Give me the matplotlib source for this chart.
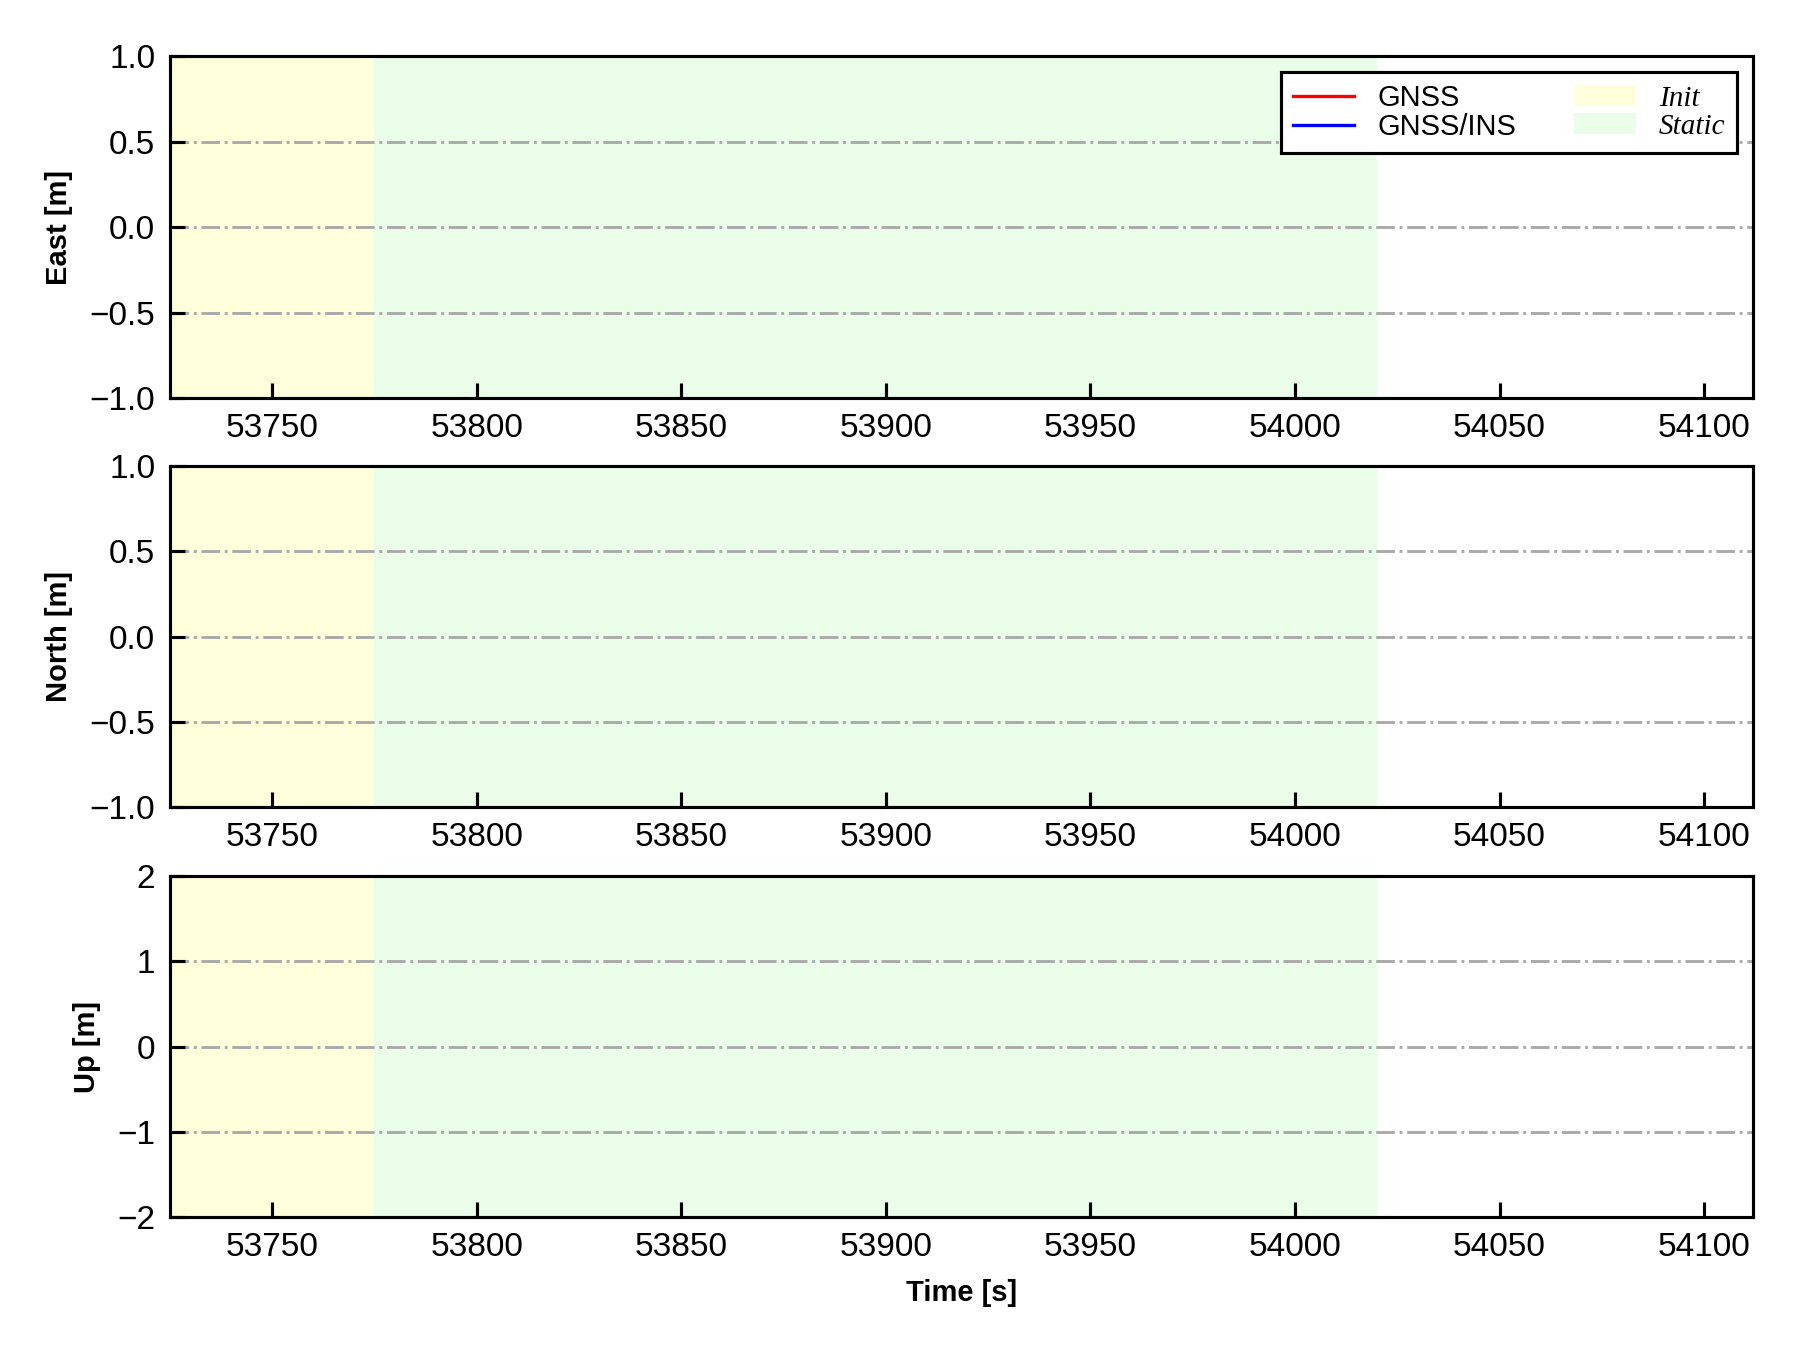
"""
Position error (ENU) of GNSS vs GNSS/INS with init and static periods shaded
"""

import matplotlib  # nopep8
matplotlib.use('Agg')  # nopep8
import matplotlib.pyplot as plt

plt.rcParams['font.family'] = ['Liberation Sans', 'DejaVu Sans']

# no samples fall inside the plotted window, so the series are empty
gnss_time = []
gnss_east = []
gnss_north = []
gnss_up = []
ins_time = []
ins_east = []
ins_north = []
ins_up = []

x_range = (53725, 54112)
x_ticks = [53750, 53800, 53850, 53900, 53950, 54000, 54050, 54100]
init_period = (53725, 53775)
static_period = (53775, 54020)

labels = ['East [m]', 'North [m]', 'Up [m]']
y_ranges = [(-1.0, 1.0), (-1.0, 1.0), (-2, 2)]
y_ticks = [[-1.0, -0.5, 0.0, 0.5, 1.0],
           [-1.0, -0.5, 0.0, 0.5, 1.0],
           [-2, -1, 0, 1, 2]]
gnss_vals = [gnss_east, gnss_north, gnss_up]
ins_vals = [ins_east, ins_north, ins_up]

fig = plt.figure(figsize=(6, 4.5), dpi=300)
boxes = [(0.0944, 0.705, 0.8796, 0.2535),
         (0.0944, 0.402, 0.8796, 0.253),
         (0.0944, 0.0985, 0.8796, 0.2525)]

for i, box in enumerate(boxes):
    ax = fig.add_axes(box)
    h_init = ax.axvspan(*init_period, color='#FFFFDC', lw=0, label='Init')
    h_static = ax.axvspan(*static_period, color='#E9FDE9', lw=0, label='Static')
    l_gnss, = ax.plot(gnss_time, gnss_vals[i], '-', color='red', lw=0.8, label='GNSS')
    l_ins, = ax.plot(ins_time, ins_vals[i], '-', color='blue', lw=0.8, label='GNSS/INS')
    ax.set_xlim(x_range)
    ax.set_ylim(y_ranges[i])
    ax.set_xticks(x_ticks)
    ax.set_yticks(y_ticks[i])
    ax.set_axisbelow('line')
    ax.yaxis.grid(True, linestyle='-.', color='#AAAAAA', linewidth=0.7)
    ax.tick_params(direction='in', length=3.5, width=0.75, labelsize=8)
    for s in ax.spines.values():
        s.set_linewidth(0.75)
        s.set_zorder(3)
    ax.set_ylabel(labels[i], fontsize=7, fontweight='bold')

    if i == 0:
        leg = ax.legend([l_gnss, l_ins, h_init, h_static],
                        ['GNSS', 'GNSS/INS', 'Init', 'Static'],
                        loc='upper right', ncol=2, fontsize=7,
                        fancybox=False, edgecolor='black', framealpha=1,
                        columnspacing=2.0, handlelength=2.1,
                        borderaxespad=0.55, labelspacing=0.05)
        leg.get_frame().set_linewidth(0.75)
        for t in leg.get_texts()[2:]:
            t.set_family(['Liberation Serif', 'DejaVu Serif'])
            t.set_style('italic')
    if i == 2:
        ax.set_xlabel('Time [s]', fontsize=7, fontweight='bold')

plt.savefig('out.png', dpi=300)
